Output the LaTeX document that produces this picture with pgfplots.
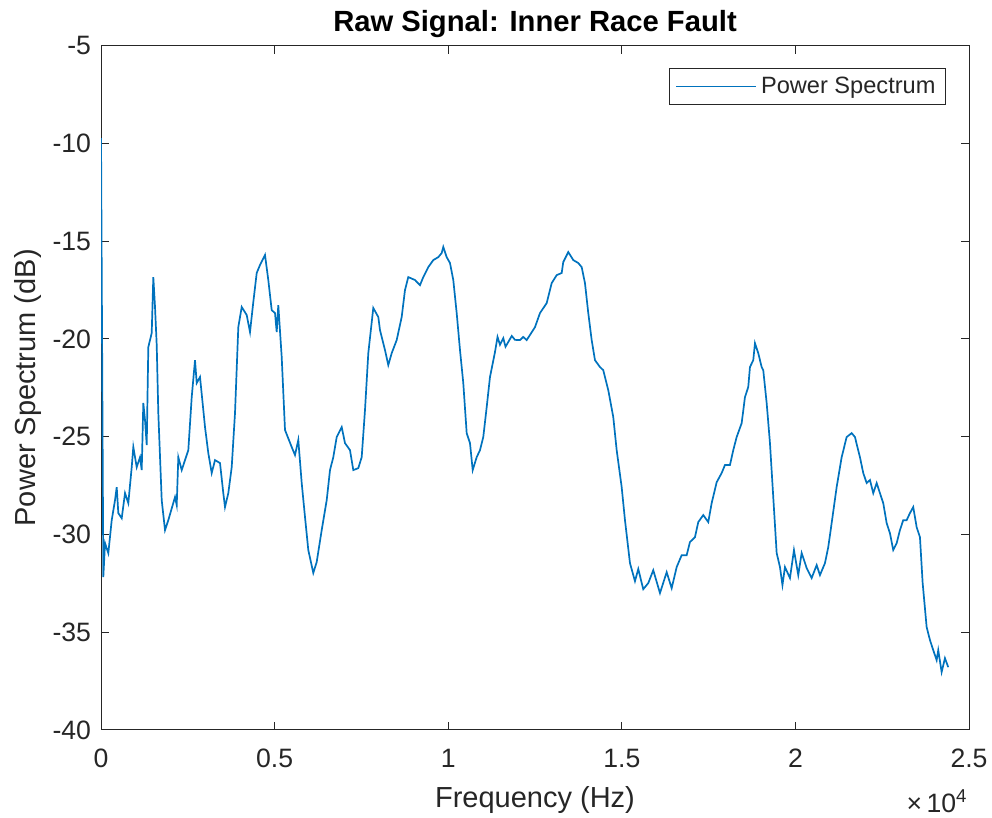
\documentclass[border=0pt]{standalone}
\usepackage{pgfplots}
\pgfplotsset{compat=1.18}
\usepackage{fontspec}
\setmainfont{Liberation Sans}
\definecolor{mblue}{rgb}{0,0.447,0.741}
\definecolor{mgray}{rgb}{0.15,0.15,0.15}
\begin{document}
\begin{tikzpicture}
\begin{axis}[
 scale only axis, width=434pt, height=342.2pt,
 xmin=0, xmax=25000, ymin=-40, ymax=-5,
 xtick={0,5000,10000,15000,20000,25000},
 xticklabels={0,0.5,1,1.5,2,2.5},
 scaled x ticks=false,
 ytick={-40,-35,-30,-25,-20,-15,-10,-5},
 yticklabels={-40,-35,-30,-25,-20,-15,-10,-5},
 tick align=inside,
 major tick length=4pt,
 axis line style={mgray, line width=0.5pt},
 tick style={mgray, line width=0.5pt},
 ticklabel style={font=\fontsize{13.3}{15}\selectfont, text=mgray},
 xticklabel style={yshift=-6pt},
 yticklabel style={xshift=-1.5pt},
 xlabel={Frequency (Hz)}, ylabel={Power Spectrum (dB)},
 label style={font=\fontsize{14.5}{17}\selectfont, text=mgray},
 xlabel style={at={(rel axis cs:0.5,-0.114)}, anchor=base},
 ylabel style={at={(rel axis cs:-0.0841,0.5)}, anchor=center},
 every axis title shift=0pt,
 title={Raw Signal: Inner Race Fault},
 title style={font=\fontsize{14.6}{17}\selectfont\bfseries, at={(rel axis cs:0.5,1.0203)}, anchor=base},
 legend style={at={(0.9735,0.967)}, anchor=north east, draw=mgray, line width=0.5pt, font=\fontsize{11.8}{14}\selectfont, text=mgray},
 legend cell align=left,
 legend image code/.code={\draw[#1] (0pt,0pt) -- (40pt,0pt);},
]
\addplot[mblue, line width=0.85pt] coordinates {
(0,-9.73) (66,-32.18) (115,-30.45) (210,-30.96) (308,-29.27) (403,-28.25) (452,-27.58) (498,-28.91) (596,-29.17) (691,-27.89) (786,-28.40) (884,-26.56) (930,-25.53) (1028,-26.56) (1123,-26.05) (1172,-26.71) (1218,-23.28) (1267,-24.15) (1316,-25.43) (1362,-20.42) (1460,-19.70) (1506,-16.84) (1555,-18.37) (1604,-20.32) (1650,-23.79) (1748,-28.25) (1843,-29.78) (1938,-29.27) (2131,-28.09) (2180,-28.50) (2226,-26.05) (2324,-26.71) (2419,-26.20) (2514,-25.69) (2612,-22.98) (2707,-21.09) (2756,-22.26) (2851,-21.95) (2995,-24.51) (3090,-25.84) (3188,-26.86) (3283,-26.20) (3427,-26.35) (3522,-27.89) (3571,-28.60) (3666,-27.89) (3764,-26.56) (3859,-23.79) (3954,-19.40) (4052,-18.37) (4196,-18.78) (4291,-19.65) (4386,-18.12) (4484,-16.63) (4579,-16.22) (4723,-15.71) (4818,-16.99) (4916,-18.53) (5011,-18.68) (5060,-19.65) (5106,-18.27) (5204,-20.93) (5299,-24.66) (5492,-25.53) (5587,-25.94) (5682,-25.17) (5780,-27.37) (5875,-29.11) (5970,-30.80) (6114,-31.97) (6212,-31.41) (6356,-29.78) (6500,-28.25) (6595,-26.71) (6690,-26.05) (6788,-25.02) (6932,-24.51) (7027,-25.33) (7171,-25.69) (7266,-26.71) (7410,-26.61) (7508,-26.05) (7603,-23.64) (7698,-20.73) (7842,-18.42) (7986,-18.88) (8035,-19.55) (8179,-20.57) (8274,-21.34) (8372,-20.73) (8516,-20.06) (8660,-18.88) (8755,-17.50) (8850,-16.84) (9043,-16.99) (9187,-17.25) (9282,-16.84) (9426,-16.33) (9570,-15.97) (9714,-15.82) (9812,-15.61) (9858,-15.30) (9956,-15.82) (10051,-16.12) (10146,-16.99) (10244,-18.68) (10339,-20.57) (10434,-22.26) (10532,-24.82) (10627,-25.33) (10705,-26.71) (10820,-26.05) (10915,-25.69) (11010,-25.02) (11108,-23.49) (11203,-21.95) (11347,-20.67) (11420,-19.90) (11491,-20.30) (11586,-19.96) (11650,-20.40) (11730,-20.16) (11830,-19.85) (11923,-20.05) (12067,-20.06) (12160,-19.90) (12260,-20.06) (12499,-19.40) (12643,-18.68) (12836,-18.17) (12980,-17.15) (13124,-16.74) (13268,-16.63) (13314,-16.07) (13458,-15.56) (13602,-15.97) (13746,-16.12) (13844,-16.33) (13939,-17.15) (14034,-18.68) (14132,-20.06) (14227,-21.09) (14371,-21.44) (14466,-21.60) (14610,-22.62) (14754,-24.00) (14852,-25.69) (14996,-27.58) (15091,-29.27) (15235,-31.47) (15379,-32.39) (15474,-31.77) (15618,-32.80) (15762,-32.49) (15906,-31.83) (16099,-33.00) (16292,-31.93) (16436,-32.75) (16580,-31.67) (16724,-31.06) (16868,-31.06) (16963,-30.39) (17107,-30.14) (17202,-29.37) (17346,-29.01) (17490,-29.37) (17588,-28.40) (17732,-27.33) (17876,-26.86) (17971,-26.45) (18115,-26.45) (18210,-25.69) (18308,-25.02) (18452,-24.31) (18547,-22.98) (18642,-22.46) (18691,-21.44) (18786,-21.09) (18835,-20.22) (18930,-20.73) (19028,-21.44) (19074,-21.60) (19172,-23.28) (19267,-25.33) (19362,-28.09) (19460,-30.95) (19555,-31.67) (19627,-32.59) (19699,-31.67) (19843,-32.23) (19958,-30.80) (20082,-32.08) (20180,-30.95) (20324,-31.72) (20468,-32.23) (20612,-31.57) (20707,-32.08) (20851,-31.47) (20946,-30.65) (21044,-29.42) (21188,-27.58) (21332,-26.05) (21476,-25.02) (21620,-24.82) (21715,-25.02) (21859,-26.05) (21954,-26.86) (22052,-27.37) (22147,-27.22) (22242,-27.89) (22340,-27.37) (22435,-27.89) (22530,-28.40) (22628,-29.42) (22723,-29.94) (22818,-30.80) (22916,-30.45) (23011,-29.78) (23106,-29.27) (23204,-29.27) (23299,-28.91) (23394,-28.60) (23492,-29.63) (23587,-30.14) (23665,-32.49) (23780,-34.74) (23875,-35.40) (23970,-35.92) (24068,-36.43) (24114,-35.92) (24212,-37.04) (24307,-36.33) (24402,-36.79)
};
\addlegendentry{Power Spectrum}
\path (rel axis cs:0.9988,-0.1213) coordinate (sc);
\path (rel axis cs:-0.1164,-0.1286) coordinate (bbA) (rel axis cs:1.0265,1.0666) coordinate (bbB);
\end{axis}
\node[anchor=base east, inner sep=0pt, text=mgray, font=\fontsize{13.3}{15}\selectfont] at (sc) {×\,10\textsuperscript{4}};
\pgfresetboundingbox
\path[use as bounding box] (bbA) rectangle (bbB);
\end{tikzpicture}
\end{document}
